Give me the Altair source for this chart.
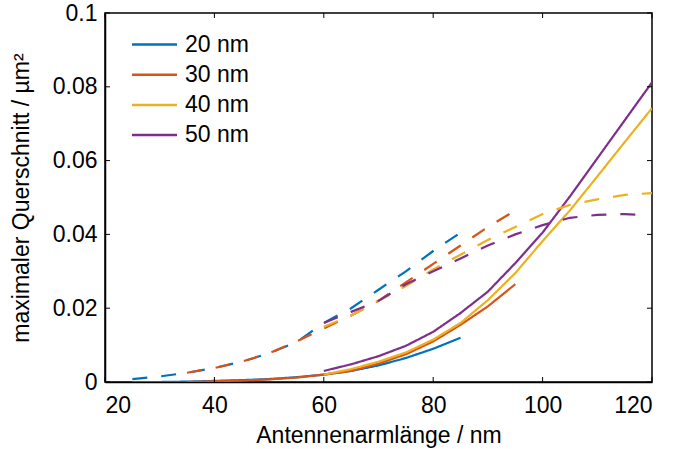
import altair as alt
import pandas as pd

# x positions (nm)
x_20 = [25, 30, 35, 40, 45, 50, 55, 60, 65, 70, 75, 80, 85]
x_30 = [35, 40, 45, 50, 55, 60, 65, 70, 75, 80, 85, 90, 95]
x_40 = [60, 65, 70, 75, 80, 85, 90, 95, 100, 105, 110, 115, 120]
x_50 = [60, 65, 70, 75, 80, 85, 90, 95, 100, 105, 110, 115, 120]
x_50d = [60, 65, 70, 75, 80, 85, 90, 95, 100, 105, 110, 115, 118]

# solid curves
s_20 = [0.0, 0.0, 0.0001, 0.0003, 0.0005, 0.0008, 0.0013, 0.002, 0.003, 0.0045, 0.0065, 0.009, 0.012]
s_30 = [0.0, 0.0002, 0.0004, 0.0007, 0.0012, 0.002, 0.003, 0.005, 0.0075, 0.011, 0.0155, 0.0205, 0.0265]
s_40 = [0.002, 0.0035, 0.0055, 0.008, 0.0115, 0.016, 0.0222, 0.0295, 0.0382, 0.0465, 0.0557, 0.065, 0.0742]
s_50 = [0.003, 0.0048, 0.007, 0.0098, 0.0136, 0.0187, 0.0245, 0.0322, 0.0405, 0.0503, 0.0606, 0.0709, 0.0812]

# dashed curves
d_20 = [0.0008, 0.0015, 0.0025, 0.0038, 0.0055, 0.0078, 0.0108, 0.016, 0.020, 0.025, 0.030, 0.0355, 0.0405]
d_30 = [0.0025, 0.0038, 0.0055, 0.0078, 0.011, 0.0145, 0.018, 0.022, 0.027, 0.032, 0.037, 0.042, 0.0465]
d_40 = [0.015, 0.018, 0.022, 0.026, 0.0305, 0.0345, 0.0385, 0.042, 0.0455, 0.048, 0.0495, 0.0507, 0.0512]
d_50 = [0.016, 0.019, 0.022, 0.0265, 0.030, 0.0335, 0.037, 0.040, 0.0425, 0.0445, 0.0453, 0.0455, 0.0453]

series_names = ["20 nm", "30 nm", "40 nm", "50 nm"]
colors = ["#0072BD", "#D95319", "#EDB120", "#7E2F8E"]

x_ticks = [20, 40, 60, 80, 100, 120]
y_ticks = [0, 0.02, 0.04, 0.06, 0.08, 0.1]

rows = []
for name, xs, ys in [("20 nm", x_20, s_20), ("30 nm", x_30, s_30), ("40 nm", x_40, s_40), ("50 nm", x_50, s_50)]:
    for a, b in zip(xs, ys):
        rows.append({"x": a, "y": b, "series": name, "kind": "solid"})
for name, xs, ys in [("20 nm", x_20, d_20), ("30 nm", x_30, d_30), ("40 nm", x_40, d_40), ("50 nm", x_50d, d_50)]:
    for a, b in zip(xs, ys):
        rows.append({"x": a, "y": b, "series": name, "kind": "dashed"})
df = pd.DataFrame(rows)
df["grp"] = df["series"] + "_" + df["kind"]

W, H = 547, 369
FONT = "Liberation Sans"
FS = 23

xscale = alt.Scale(domain=[20, 120], nice=False, zero=False)
yscale = alt.Scale(domain=[0, 0.1], nice=False)

lines = alt.Chart(df).mark_line(strokeWidth=2.2, clip=True).encode(
    x=alt.X("x:Q", scale=xscale, axis=alt.Axis(
        values=x_ticks, title="Antennenarmlänge / nm", grid=False, ticks=False,
        labelFontSize=FS, titleFontSize=FS, labelFont=FONT, titleFont=FONT,
        labelColor="black", titleColor="black", domainColor="black",
        labelPadding=12, titlePadding=7, titleFontWeight="normal")),
    y=alt.Y("y:Q", scale=yscale, axis=alt.Axis(
        values=y_ticks, format=".2~f", title="maximaler Querschnitt / µm²", grid=False, ticks=False,
        labelFontSize=FS, titleFontSize=FS, labelFont=FONT, titleFont=FONT,
        labelColor="black", titleColor="black", domainColor="black",
        labelPadding=8, titlePadding=19, titleFontWeight="normal")),
    color=alt.Color("series:N", scale=alt.Scale(domain=series_names, range=colors),
                    legend=alt.Legend(title=None, orient="none", legendX=37, legendY=19,
                                      symbolType="M-2,0H2", symbolSize=506, symbolStrokeWidth=2.5,
                                      labelFontSize=FS, labelFont=FONT, labelColor="black",
                                      rowPadding=5.2, labelOffset=18)),
    strokeDash=alt.StrokeDash("kind:N", scale=alt.Scale(domain=["solid", "dashed"], range=[[1, 0], [15, 14]]), legend=None),
    detail="grp:N",
)

xt = pd.DataFrame({"x": x_ticks})
yt = pd.DataFrame({"y": y_ticks})
tick_style = dict(color="black", strokeWidth=1)
xb = alt.Chart(xt).mark_rule(**tick_style).encode(x=alt.X("x:Q", scale=xscale), y=alt.value(H), y2=alt.value(H - 5))
xtop = alt.Chart(xt).mark_rule(**tick_style).encode(x=alt.X("x:Q", scale=xscale), y=alt.value(0), y2=alt.value(5))
yl = alt.Chart(yt).mark_rule(**tick_style).encode(y=alt.Y("y:Q", scale=yscale), x=alt.value(0), x2=alt.value(5))
yr = alt.Chart(yt).mark_rule(**tick_style).encode(y=alt.Y("y:Q", scale=yscale), x=alt.value(W), x2=alt.value(W - 5))

chart = alt.layer(lines, xb, xtop, yl, yr).properties(
    width=W, height=H,
    autosize=alt.AutoSizeParams(type="none"),
    padding={"left": 105, "top": 13, "right": 22, "bottom": 67},
).configure_view(stroke="black", strokeWidth=1.5).configure_axis(domainWidth=1.5)

chart.save("out.html", embed_options={"renderer": "svg", "actions": False})
